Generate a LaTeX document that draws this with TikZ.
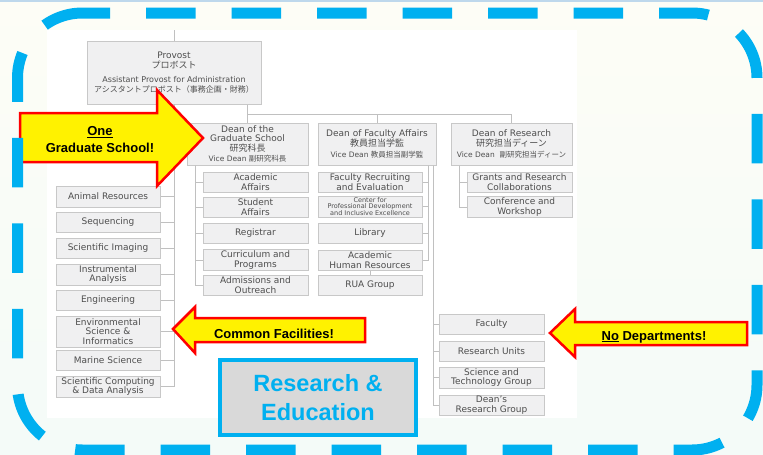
\documentclass[tikz,border=0pt]{standalone}
\usepackage{fontspec}
\setmainfont{DejaVu Sans}
\newfontfamily\callfont{Liberation Sans}
\newfontfamily\jp{Noto Sans CJK JP}

\definecolor{frameblue}{RGB}{0,176,240}
\definecolor{topblue}{RGB}{190,216,236}
\definecolor{paper}{RGB}{253,253,246}
\definecolor{mint}{RGB}{244,251,248}
\definecolor{boxgray}{RGB}{240,240,241}
\definecolor{boxline}{RGB}{200,200,200}
\definecolor{linkgray}{RGB}{192,192,192}
\definecolor{chartink}{RGB}{78,78,78}
\definecolor{regray}{RGB}{217,217,217}

\newcommand\vicefont{\fontsize{7.5}{8}\selectfont}

\tikzset{
  orgbox/.style={draw=boxline, fill=boxgray, line width=1pt, text=chartink,
    align=center, inner sep=1pt, font=\fontsize{9}{9.5}\selectfont},
  link/.style={draw=linkgray, line width=0.9pt},
  callout/.style={fill=yellow, draw=red, line width=2.5pt, line join=miter},
  calltext/.style={font=\callfont\bfseries\fontsize{13}{17}\selectfont, align=center},
  frame/.style={draw=frameblue, line width=11pt, dash pattern=on 49.5pt off 36pt,
    dash phase=22pt}
}

\begin{document}
\begin{tikzpicture}[x=1pt, y=-1pt]
  \useasboundingbox (0,0) rectangle (763,455);
  \shade[top color=paper, bottom color=mint] (0,0) rectangle (763,455);
  \draw[topblue, line width=2pt] (0,1) -- (763,1);
  % chart sheet
  \fill[white] (47,30) rectangle (577,418);

  % top level
  \node[orgbox, minimum width=174, minimum height=63] (provost) at (174,72.5)
    {Provost\\{\jp プロボスト}\\[5pt]{\fontsize{8}{9}\selectfont Assistant Provost for Administration}\\
     {\jp\fontsize{8}{9}\selectfont アシスタントプロボスト（事務企画・財務）}};
  \coordinate (sheettop) at (174,30);
  \draw[link] (sheettop) -- (provost.north);

  \node[orgbox, minimum width=121, minimum height=42] (gs) at (247.5,144)
    {Dean of the\\Graduate School\\{\jp 研究科長}\\[1pt]{\vicefont Vice Dean {\jp 副研究科長}}};
  \node[orgbox, minimum width=118, minimum height=42] (fa) at (377,144)
    {Dean of Faculty Affairs\\{\jp 教員担当学監}\\[2pt]{\vicefont Vice Dean {\jp 教員担当副学監}}};
  \node[orgbox, minimum width=121, minimum height=42] (dr) at (511.5,144)
    {Dean of Research\\{\jp 研究担当ディーン}\\[2pt]{\vicefont Vice Dean\ \ {\jp 副研究担当ディーン}}};

  \coordinate (bus) at (247,114);
  \draw[link] (gs.north |- provost.south) -- (gs.north);
  \draw[link] (bus) -| (dr.north);
  \draw[link] (bus -| fa.north) -- (fa.north);

  % common facilities
  \foreach \n/\y/\h/\t in {ar/196.5/21/{Animal Resources}, seq/222/20/Sequencing,
      si/248/20/{Scientific Imaging}, ia/274.5/21/{Instrumental\\Analysis},
      eng/300/20/Engineering, esi/331.5/31/{Environmental\\Science \&\\Informatics},
      ms/360/20/{Marine Science}, sc/386.5/21/{Scientific Computing\\\& Data Analysis}}
    \node[orgbox, minimum width=104, minimum height=\h] (\n) at (108,\y) {\t};
  \foreach \n in {ar,seq,si,ia,eng,esi,ms,sc}
    \draw[link] (provost.south) |- (\n.east);

  % graduate school offices
  \foreach \n/\y/\t in {aa/182/{Academic\\Affairs}, sa/207/{Student\\Affairs},
      reg/233/Registrar, cp/260/{Curriculum and\\Programs}, ao/285/{Admissions and\\Outreach}}
    \node[orgbox, minimum width=105, minimum height=20] (\n) at (255.5,\y) {\t};
  \coordinate (gsroot) at ([xshift=9pt]gs.south west);
  \foreach \n in {aa,sa,reg,cp,ao}
    \draw[link] (gsroot) |- (\n.west);

  % faculty affairs offices
  \node[orgbox, minimum width=104, minimum height=20] (fre) at (370,182) {Faculty Recruiting\\and Evaluation};
  \node[orgbox, minimum width=104, minimum height=21, font=\fontsize{6.5}{6.8}\selectfont] (cpd) at (370,206.5)
    {Center for\\Professional Development\\and Inclusive Excellence};
  \node[orgbox, minimum width=104, minimum height=20] (lib) at (370,233) {Library};
  \node[orgbox, minimum width=104, minimum height=20] (ahr) at (370,260) {Academic\\Human Resources};
  \node[orgbox, minimum width=104, minimum height=20] (rua) at (370,285) {RUA Group};
  \coordinate (faroot) at ([xshift=-8pt]fa.south east);
  \foreach \n in {fre,cpd,lib,ahr}
    \draw[link] (faroot) |- (\n.east);
  \draw[link] (ahr) -- (rua);

  % faculty and research units
  \foreach \n/\y/\h/\t in {fac/324/20/Faculty, ru/351/20/{Research Units},
      stg/377.5/21/{Science and\\Technology Group}, drg/405/20/{Dean's\\Research Group}}
    \node[orgbox, minimum width=105, minimum height=\h] (\n) at (491.5,\y) {\t};
  \coordinate (furoot) at ([xshift=-3pt]fa.south east);
  \foreach \n in {fac,ru,stg,drg}
    \draw[link] (furoot) |- (\n.west);

  % research offices
  \node[orgbox, minimum width=105, minimum height=20] (grc) at (519.5,182) {Grants and Research\\Collaborations};
  \node[orgbox, minimum width=105, minimum height=20] (cw) at (519.5,207) {Conference and\\Workshop};
  \coordinate (drroot) at ([xshift=9pt]dr.south west);
  \foreach \n in {grc,cw}
    \draw[link] (drroot) |- (\n.west);

  % callouts
  \draw[callout] (20,113) -- (157,113) -- (157,90) -- (203,138) -- (157,186) -- (157,162) -- (20,162) -- cycle;
  \node[calltext] (onegs) at (100,139.5) {\underline{One}\\Graduate School!};

  \draw[callout] (365,318) -- (195,318) -- (195,307) -- (173,329) -- (195,353) -- (195,342) -- (365,342) -- cycle;
  \node[calltext] (common) at (274,334) {Common Facilities!};

  \draw[callout] (747,322) -- (575,322) -- (575,309) -- (550,333) -- (575,357) -- (575,345) -- (747,345) -- cycle;
  \node[calltext] (nodept) at (654,337) {\underline{No} Departments!};

  \node[draw=frameblue, line width=4pt, fill=regray, text=frameblue, minimum width=196, minimum height=75,
    align=center, font=\callfont\bfseries\fontsize{23.5}{29}\selectfont] (re) at (318,397.5) {Research \&\\Education};

  % dashed outline, started on the top edge so the dashes fall in place
  \draw[frame] (82.5,13) -- (692,13) arc[start angle=-90, end angle=0, radius=65]
    -- (757,385) arc[start angle=0, end angle=90, radius=65]
    -- (82.5,450) arc[start angle=90, end angle=180, radius=65]
    -- (17.5,78) arc[start angle=180, end angle=270, radius=65] -- cycle;
\end{tikzpicture}
\end{document}
